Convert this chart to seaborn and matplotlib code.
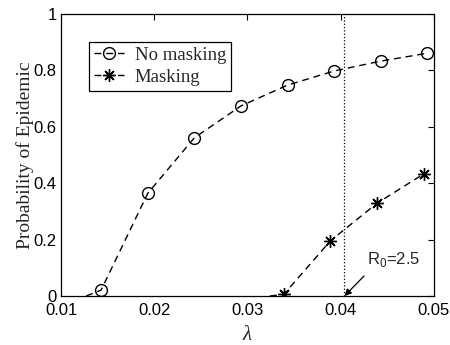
import numpy as np
import matplotlib
matplotlib.use("Agg")
import matplotlib.pyplot as plt
import seaborn as sns

# data
lam_nomask = [0.0127, 0.0143, 0.0193, 0.0243, 0.0293, 0.0343, 0.0393, 0.0443, 0.0493]
p_nomask = [0.0, 0.021, 0.364, 0.561, 0.674, 0.748, 0.798, 0.833, 0.861]
lam_mask = [0.0324, 0.0339, 0.0389, 0.0439, 0.0489]
p_mask = [0.0, 0.006, 0.196, 0.329, 0.433]
lam_r0 = 0.0404
r0_label = "R$_0$=2.5"

sns.set_style("white")
plt.rcParams["font.family"] = ["Liberation Sans", "DejaVu Sans"]
plt.rcParams["mathtext.fontset"] = "custom"
plt.rcParams["mathtext.rm"] = "Liberation Sans"

fig = plt.figure(figsize=(4.5, 3.45), dpi=100)
ax = fig.add_axes([0.1356, 0.142, 0.8288, 0.8174])

sns.lineplot(x=lam_nomask, y=p_nomask, ax=ax, color="k", lw=1.0, dashes=False,
             marker="o", markersize=8.5, markerfacecolor="none", markeredgecolor="k",
             markeredgewidth=1.0, markevery=list(range(1, len(lam_nomask))),
             label="No masking", sort=False)
sns.lineplot(x=lam_mask, y=p_mask, ax=ax, color="k", lw=1.0, dashes=False,
             marker=(8, 2, 0), markersize=9, markeredgecolor="k", markeredgewidth=1.0,
             markevery=list(range(1, len(lam_mask))), label="Masking", sort=False)
for ln in ax.lines:
    ln.set_dashes((5, 3.5))

ax.plot([lam_r0, lam_r0], [0, 1], color="k", linestyle=":", lw=0.9)
ax.annotate("", xy=(lam_r0, 0.0), xytext=(0.0425, 0.071),
            arrowprops=dict(arrowstyle="-|>", color="k", lw=0.9, mutation_scale=10,
                            shrinkA=0, shrinkB=0))
ax.text(0.0428, 0.128, r0_label, fontsize=12, va="center", ha="left")

ax.set_xlim(0.01, 0.05)
ax.set_ylim(0, 1)
ax.set_xticks([0.01, 0.02, 0.03, 0.04, 0.05])
ax.set_xticklabels(["0.01", "0.02", "0.03", "0.04", "0.05"])
ax.set_yticks([0, 0.2, 0.4, 0.6, 0.8, 1])
ax.set_yticklabels(["0", "0.2", "0.4", "0.6", "0.8", "1"])
ax.tick_params(direction="in", length=4, width=0.8, top=True, right=True,
               labelsize=12, colors="k", pad=3)
ax.tick_params(axis="x", pad=5)
for s in ax.spines.values():
    s.set_color("k")
    s.set_linewidth(0.9)

ax.set_xlabel("λ", fontsize=15, family="Liberation Serif", style="italic", labelpad=6)
ax.set_ylabel("Probability of Epidemic", fontsize=14, family="Liberation Serif", labelpad=0)

leg = ax.legend(loc="upper left", bbox_to_anchor=(0.075, 0.90), borderaxespad=0,
                frameon=True, fancybox=False, edgecolor="k", framealpha=1,
                prop={"family": "Liberation Serif", "size": 13.5}, handlelength=1.6,
                handletextpad=0.6, borderpad=0.25, labelspacing=0.25, numpoints=1)
leg.get_frame().set_linewidth(0.9)

fig.savefig("out.png", dpi=100)
